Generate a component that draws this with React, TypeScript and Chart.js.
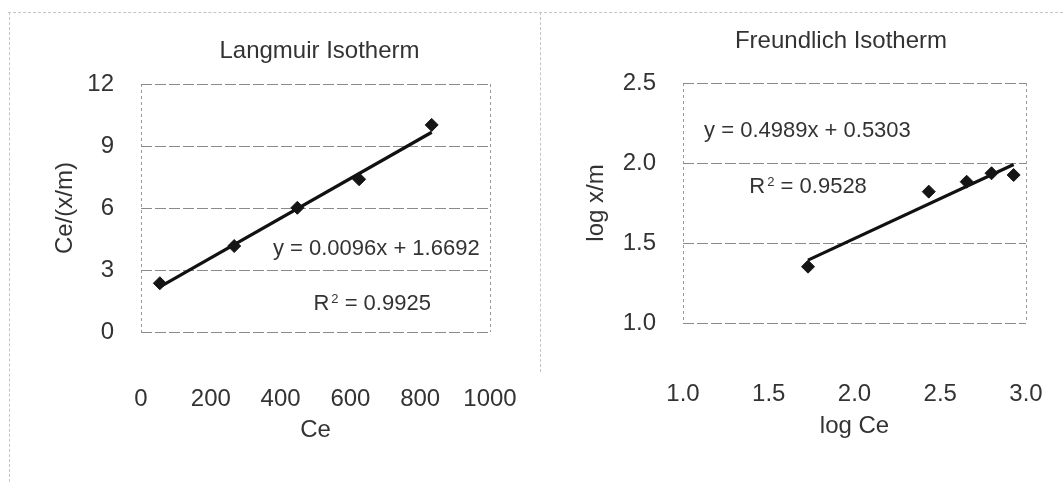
import React, { useEffect, useRef } from "react";
import { Chart, registerables } from "chart.js";

Chart.register(...registerables);

// ---- Langmuir data ----
const langmuirCe = [54, 267, 448, 625, 833];
const langmuirRatio = [2.36, 4.16, 6.01, 7.39, 10.02];
const langmuirSlope = 0.0096;
const langmuirIntercept = 1.6692;
const langmuirR2 = "0.9925";
const langmuirXTicks = [0, 200, 400, 600, 800, 1000];
const langmuirYTicks = [0, 3, 6, 9, 12];

// ---- Freundlich data ----
const freundlichLogCe = [1.729, 2.433, 2.654, 2.799, 2.928];
const freundlichLogXm = [1.352, 1.821, 1.883, 1.936, 1.925];
const freundlichSlope = 0.4989;
const freundlichIntercept = 0.5303;
const freundlichR2 = "0.9528";
const freundlichXTicks = [1.0, 1.5, 2.0, 2.5, 3.0];
const freundlichYTicks = [1.0, 1.5, 2.0, 2.5];

const FONT = "'Liberation Sans', Arial, sans-serif";
const TEXT = "#333333";

const textPlugin = {
  id: "isoText",
  afterDatasetsDraw(chart: any, _args: any, opts: any) {
    const { ctx } = chart;
    const x = chart.scales.x;
    const y = chart.scales.y;
    ctx.save();
    ctx.fillStyle = TEXT;
    ctx.font = `24px ${FONT}`;
    ctx.textAlign = "center";
    ctx.textBaseline = "middle";
    ctx.fillText(opts.title, opts.titleX, opts.titleY);

    ctx.font = `22px ${FONT}`;
    ctx.textAlign = "left";
    ctx.fillText(opts.eq, x.getPixelForValue(opts.eqAt[0]), y.getPixelForValue(opts.eqAt[1]));

    const rx = x.getPixelForValue(opts.r2At[0]);
    const ry = y.getPixelForValue(opts.r2At[1]);
    ctx.textBaseline = "alphabetic";
    const base = ry + 8;
    ctx.fillText("R", rx, base);
    const rw = ctx.measureText("R").width;
    ctx.font = `13px ${FONT}`;
    ctx.fillText("2", rx + rw + 2, base - 7);
    const sw = ctx.measureText("2").width;
    ctx.font = `22px ${FONT}`;
    ctx.fillText(" = " + opts.r2, rx + rw + 2 + sw, base);
    ctx.restore();
  },
};

function makeConfig(p: any) {
  const pts = p.xs.map((v: number, i: number) => ({ x: v, y: p.ys[i] }));
  const xMin = Math.min(...p.xs);
  const xMax = Math.max(...p.xs);
  const trend = [
    { x: xMin, y: p.slope * xMin + p.intercept },
    { x: xMax, y: p.slope * xMax + p.intercept },
  ];
  const tickFont = { family: FONT, size: 24 };
  const xMinT = p.xTicks[0];
  const xMaxT = p.xTicks[p.xTicks.length - 1];
  return {
    type: "scatter",
    data: {
      datasets: [
        {
          type: "line",
          data: trend,
          borderColor: "#111111",
          borderWidth: 3.2,
          pointRadius: 0,
          fill: false,
          order: 1,
        },
        {
          type: "scatter",
          data: pts,
          pointStyle: "rectRot",
          pointRadius: 6.5,
          backgroundColor: "#151515",
          borderColor: "#151515",
          order: 0,
        },
      ],
    },
    options: {
      animation: false,
      responsive: false,
      layout: { padding: p.padding },
      plugins: {
        legend: { display: false },
        tooltip: { enabled: false },
        title: { display: false },
        isoText: {
          title: p.title,
          titleX: p.titleX,
          titleY: p.titleY,
          eq: `y = ${p.slope}x + ${p.intercept}`,
          eqAt: p.eqAt,
          r2: p.r2,
          r2At: p.r2At,
        },
      },
      scales: {
        x: {
          type: "linear",
          min: xMinT,
          max: xMaxT,
          afterBuildTicks: (s: any) => {
            s.ticks = p.xTicks.map((v: number) => ({ value: v }));
          },
          afterFit: (s: any) => {
            s.height = p.xHeight;
          },
          grid: {
            drawTicks: true,
            tickLength: p.xTickPad,
            tickColor: "rgba(0,0,0,0)",
            lineWidth: 1,
            color: (c: any) =>
              c.tick && (c.tick.value === xMinT || c.tick.value === xMaxT)
                ? "#9a9a9a"
                : "rgba(0,0,0,0)",
          },
          border: { display: false, dash: [3, 3] },
          ticks: {
            padding: 0,
            font: tickFont,
            color: TEXT,
            maxRotation: 0,
            autoSkip: false,
            callback: (v: number) => p.fmt(v),
          },
          title: { display: true, text: p.xTitle, font: tickFont, color: TEXT, padding: 0 },
        },
        y: {
          type: "linear",
          min: p.yTicks[0],
          max: p.yTicks[p.yTicks.length - 1],
          afterBuildTicks: (s: any) => {
            s.ticks = p.yTicks.map((v: number) => ({ value: v }));
          },
          afterFit: (s: any) => {
            s.width = p.yWidth;
          },
          grid: {
            drawTicks: true,
            tickLength: 27,
            tickColor: "rgba(0,0,0,0)",
            lineWidth: 1,
            color: "#8a8a8a",
          },
          border: { display: false, dash: [11, 3] },
          ticks: {
            padding: 0,
            font: tickFont,
            color: TEXT,
            autoSkip: false,
            callback: (v: number) => p.fmt(v),
          },
          title: { display: true, text: p.yTitle, font: tickFont, color: TEXT, padding: 0 },
        },
      },
    },
    plugins: [textPlugin],
  };
}

function ChartCanvas({ cfg, width, height }: { cfg: any; width: number; height: number }) {
  const ref = useRef<HTMLCanvasElement | null>(null);
  useEffect(() => {
    if (!ref.current) return;
    const chart = new Chart(ref.current, cfg);
    return () => chart.destroy();
  }, []);
  return <canvas ref={ref} width={width} height={height} style={{ display: "block" }} />;
}

const langmuirCfg = makeConfig({
  xs: langmuirCe,
  ys: langmuirRatio,
  slope: langmuirSlope,
  intercept: langmuirIntercept,
  r2: langmuirR2,
  xTicks: langmuirXTicks,
  yTicks: langmuirYTicks,
  fmt: (v: number) => String(v),
  title: "Langmuir Isotherm",
  titleX: 319.5,
  titleY: 51,
  xTitle: "Ce",
  yTitle: "Ce/(x/m)",
  padding: { left: 50.6, right: 50, top: 84, bottom: 42.6 },
  xHeight: 112.4,
  yWidth: 90.4,
  xTickPad: 52.6,
  eqAt: [378, 4.02],
  r2At: [494, 1.43],
});

const freundlichCfg = makeConfig({
  xs: freundlichLogCe,
  ys: freundlichLogXm,
  slope: freundlichSlope,
  intercept: freundlichIntercept,
  r2: freundlichR2,
  xTicks: freundlichXTicks,
  yTicks: freundlichYTicks,
  fmt: (v: number) => v.toFixed(1),
  title: "Freundlich Isotherm",
  titleX: 301,
  titleY: 41,
  xTitle: "log Ce",
  yTitle: "log x/m",
  padding: { left: 41.6, right: 37, top: 83, bottom: 46.6 },
  xHeight: 117.4,
  yWidth: 101.4,
  xTickPad: 56.6,
  eqAt: [1.123, 2.203],
  r2At: [1.387, 1.8625],
});

export default function App() {
  const line = "#c4c4c4";
  return (
    <div
      style={{
        position: "absolute",
        left: 0,
        top: 0,
        width: 1063,
        height: 487,
        background: "#ffffff",
        overflow: "hidden",
      }}
    >
      <div style={{ position: "absolute", left: 0, top: 0 }}>
        <ChartCanvas cfg={langmuirCfg} width={540} height={487} />
      </div>
      <div style={{ position: "absolute", left: 540, top: 0 }}>
        <ChartCanvas cfg={freundlichCfg} width={523} height={487} />
      </div>
      <div style={{ position: "absolute", left: 8, top: 12, width: 1055, height: 0, borderTop: `1px dashed ${line}` }} />
      <div style={{ position: "absolute", left: 9, top: 12, width: 0, height: 470, borderLeft: `1px dashed ${line}` }} />
      <div style={{ position: "absolute", left: 540, top: 12, width: 0, height: 360, borderLeft: `1px dashed ${line}` }} />
    </div>
  );
}
